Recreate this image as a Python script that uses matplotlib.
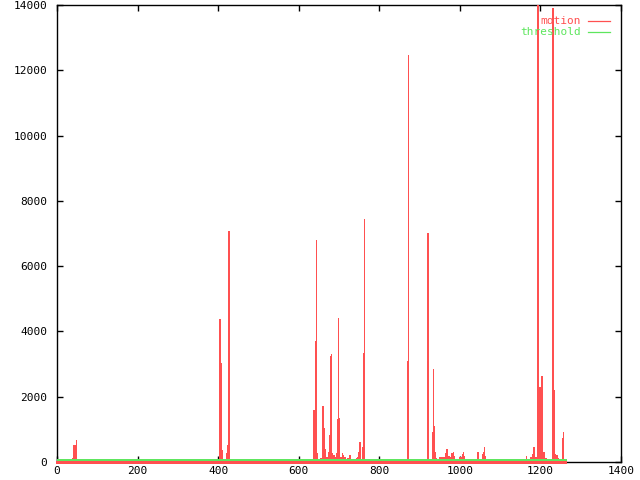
import numpy as np
import matplotlib
matplotlib.use("Agg")
import matplotlib.pyplot as plt

# ---- data ----
n_frames = 1262
# sparse motion values: (first_frame, last_frame, value)
motion_start = [36, 39, 46,
                243, 265, 287, 315, 320, 335, 352, 365, 375, 385, 389, 394,
                403, 405, 407, 420, 422, 424, 427,
                440, 451, 473, 491, 503, 512, 523, 532, 538, 563, 577, 592, 622,
                636, 638, 640, 642, 645, 647, 654, 657, 659, 662, 664, 667, 672, 674,
                677, 679, 682, 684, 689, 692, 694, 697, 699, 702, 707, 709, 712, 717,
                719, 724, 729, 731, 737, 742, 744, 747, 749, 752, 757, 759, 762, 764,
                778, 791, 806,
                869, 871, 919, 921, 923, 931, 933, 935, 938, 940, 942, 948, 951,
                962, 965, 968, 976, 979, 982, 985, 987, 998, 1005, 1007, 1010, 1012,
                1043, 1045, 1047, 1055, 1057, 1059, 1062, 1081, 1117,
                1152, 1163, 1166, 1174, 1179, 1181, 1184, 1186,
                1192, 1194, 1196, 1199, 1201, 1204, 1206, 1209, 1211, 1216,
                1229, 1231, 1234, 1236, 1241, 1244, 1253, 1256, 1258]
motion_end = [38, 45, 48,
              243, 265, 287, 315, 320, 335, 352, 365, 375, 385, 389, 394,
              404, 406, 409, 421, 423, 426, 428,
              440, 451, 473, 491, 503, 512, 523, 532, 538, 563, 577, 592, 622,
              637, 639, 641, 644, 646, 653, 656, 658, 661, 663, 666, 671, 673, 676,
              678, 681, 683, 688, 691, 693, 696, 698, 701, 706, 708, 711, 716, 718,
              723, 728, 730, 736, 741, 743, 746, 748, 751, 756, 758, 761, 763, 766,
              786, 803, 818,
              870, 872, 920, 922, 927, 932, 934, 937, 939, 941, 947, 950, 961,
              964, 967, 974, 978, 981, 984, 986, 993, 1003, 1006, 1009, 1011, 1014,
              1044, 1046, 1049, 1056, 1058, 1061, 1063, 1085, 1118,
              1162, 1165, 1172, 1176, 1180, 1183, 1185, 1190,
              1193, 1195, 1198, 1200, 1203, 1205, 1208, 1210, 1215, 1228,
              1230, 1233, 1235, 1240, 1243, 1252, 1255, 1257, 1260]
motion_value = [110, 520, 670,
                50, 50, 50, 50, 50, 50, 50, 50, 50, 50, 50, 50,
                4380, 3030, 370, 280, 520, 7070, 4010,
                40, 40, 90, 40, 40, 40, 40, 40, 40, 40, 40, 40, 40,
                1590, 1100, 3700, 6800, 290, 60, 130, 1290, 1720, 1050, 400, 160, 300, 830,
                3250, 3310, 270, 210, 150, 270, 1320, 4410, 1350, 160, 270, 210, 150, 60,
                130, 210, 90, 60, 90, 110, 150, 300, 610, 60, 470, 3350, 7450, 60,
                60, 60, 40,
                3090, 12470, 7010, 3610, 60, 920, 2850, 1100, 300, 120, 100, 160, 140,
                265, 400, 180, 160, 265, 320, 180, 100, 150, 235, 320, 180, 100,
                320, 180, 100, 245, 320, 450, 180, 60, 40,
                100, 180, 100, 160, 240, 450, 240, 160,
                15000, 4260, 2300, 300, 2630, 1160, 300, 245, 120, 60,
                13900, 2200, 245, 215, 120, 60, 735, 920, 60]
threshold_value = 75

x_ticks = [0, 200, 400, 600, 800, 1000, 1200, 1400]
y_ticks = [0, 2000, 4000, 6000, 8000, 10000, 12000, 14000]

# ---- build series ----
frames = np.arange(n_frames)
motion = np.zeros(n_frames)
for s, e, v in zip(motion_start, motion_end, motion_value):
    motion[s:e + 1] = v

red = '#ff5050'
green = '#5ee65e'

plt.rcParams['font.family'] = ['DejaVu Sans Mono']
fig = plt.figure(figsize=(6.4, 4.8), dpi=100)
ax = fig.add_axes([57 / 640, 18 / 480, 564 / 640, 457 / 480])

markerline, stemlines, baseline = ax.stem(frames, motion, markerfmt=' ', basefmt='-',
                                          label='motion')
stemlines.set_color(red)
stemlines.set_linewidth(0.72)
stemlines.set_antialiased(False)
stemlines.set_zorder(3)
baseline.set_color(red)
baseline.set_linewidth(1.0)
baseline.set_antialiased(False)
baseline.set_clip_on(False)
baseline.set_zorder(5)
ax.plot([0, n_frames - 1], [threshold_value, threshold_value], color=green,
        linewidth=0.9, antialiased=False, label='threshold', zorder=4)

ax.set_xlim(0, 1400)
ax.set_ylim(0, 14000)
ax.set_xticks(x_ticks)
ax.set_yticks(y_ticks)
ax.set_xticklabels([str(t) for t in x_ticks])
ax.set_yticklabels([str(t) for t in y_ticks])
ax.tick_params(direction='in', length=4, width=1, top=True, right=True,
               labelsize=8, colors='black')
ax.tick_params(axis='x', pad=3)
ax.tick_params(axis='y', pad=7)
for sp in ax.spines.values():
    sp.set_linewidth(1.0)
    sp.set_color('black')

# legend (gnuplot style: text then line sample, right aligned)
leg_x_text = 581 / 640
leg_y1 = 1 - 21 / 480
leg_y2 = 1 - 32 / 480
fig.text(leg_x_text, leg_y1, 'motion', color=red, ha='right', va='center', fontsize=8)
fig.text(leg_x_text, leg_y2, 'threshold', color=green, ha='right', va='center', fontsize=8)
fig.add_artist(plt.Line2D([588 / 640, 610 / 640], [leg_y1, leg_y1], color=red, linewidth=0.9))
fig.add_artist(plt.Line2D([588 / 640, 610 / 640], [leg_y2, leg_y2], color=green, linewidth=0.9))

fig.savefig('out.png', dpi=100)
